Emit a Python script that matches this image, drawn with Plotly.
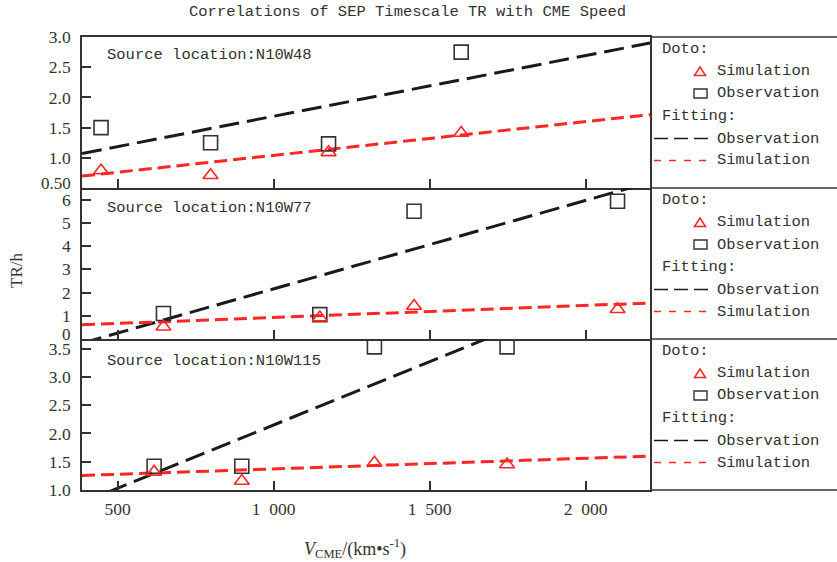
import plotly.graph_objects as go
from plotly.subplots import make_subplots

# ---- text ----
title_text = "Correlations of SEP Timescale TR with CME Speed"
source_labels = ["Source location:N10W48", "Source location:N10W77", "Source location:N10W115"]
y_title = "TR/h"
x_title = "<i>V</i><sub>CME</sub>/(km\u2022s<sup>-1</sup>)"

# ---- data: CME speed (km/s) and timescale TR (h) ----
speed_w48 = [447, 798, 1176, 1601]
obs_w48 = [1.50, 1.25, 1.23, 2.75]
sim_w48 = [0.79, 0.71, 1.09, 1.41]
fit_obs_w48 = [0.682, 1.0055e-3]   # intercept, slope
fit_sim_w48 = [0.481, 5.593e-4]

speed_w77 = [647, 1148, 1450, 2102]
obs_w77 = [1.10, 1.05, 5.50, 5.93]
sim_w77 = [0.53, 0.92, 1.42, 1.28]
fit_obs_w77 = [-1.649, 3.808e-3]
fit_sim_w77 = [0.411, 5.165e-4]

speed_w115 = [617, 898, 1323, 1748]
obs_w115 = [1.42, 1.42, 3.53, 3.53]
sim_w115 = [1.32, 1.16, 1.48, 1.45]
fit_obs_w115 = [-0.088, 2.238e-3]
fit_sim_w115 = [1.184, 1.885e-4]

# ---- axes ----
speed_range = [386, 2206]
x_tickvals = [500, 1000, 1500, 2000]
x_ticktext = ["500", "1\u2002000", "1\u2002500", "2\u2002000"]

y_ranges = [[0.5, 3.0], [0, 6.5], [1.0, 3.67]]
y_tickvals = [
    [0.5, 1.0, 1.5, 2.0, 2.5, 3.0],
    [0, 1, 2, 3, 4, 5, 6],
    [1.0, 1.5, 2.0, 2.5, 3.0, 3.5],
]
y_ticktext = [
    ["0.50", "1.0", "1.5", "2.0", "2.5", "3.0"],
    ["0", "1", "2", "3", "4", "5", "6"],
    ["1.0", "1.5", "2.0", "2.5", "3.0", "3.5"],
]

panels = [
    (speed_w48, obs_w48, sim_w48, fit_obs_w48, fit_sim_w48),
    (speed_w77, obs_w77, sim_w77, fit_obs_w77, fit_sim_w77),
    (speed_w115, obs_w115, sim_w115, fit_obs_w115, fit_sim_w115),
]

# ---- style ----
W, H = 837, 562
ML, MR, MT, MB = 82, 187, 37, 72
PW, PH = W - ML - MR, H - MT - MB
INK = "#333333"
RED = "#ff2626"
DARK = "#1a1a1a"
MONO = "Liberation Mono"
SERIF = "Liberation Serif"
TXT = 15.5
TICK = 17.5

fig = make_subplots(rows=3, cols=1, shared_xaxes=True, vertical_spacing=0)

annotations = []
shapes = []


def px(x):
    return (x - ML) / PW


def py(y):
    return (H - MB - y) / PH


def text(x, y, s, anchor="left", size=TXT, family=MONO, angle=0):
    annotations.append(dict(x=px(x), y=py(y), xref="paper", yref="paper", text=s,
                            showarrow=False, xanchor=anchor, yanchor="middle",
                            textangle=angle,
                            font=dict(family=family, size=size, color=INK)))


for i, (spd, obs, sim, f_obs, f_sim) in enumerate(panels):
    row = i + 1
    fit_y_obs = [f_obs[0] + f_obs[1] * v for v in speed_range]
    fit_y_sim = [f_sim[0] + f_sim[1] * v for v in speed_range]
    fig.add_trace(go.Scatter(x=speed_range, y=fit_y_obs, mode="lines",
                             line=dict(color=DARK, width=3, dash="20px,8px")),
                  row=row, col=1)
    fig.add_trace(go.Scatter(x=speed_range, y=fit_y_sim, mode="lines",
                             line=dict(color=RED, width=3, dash="13px,6px")),
                  row=row, col=1)
    fig.add_trace(go.Scatter(x=spd, y=obs, mode="markers",
                             marker=dict(symbol="square-open", size=14,
                                         color=INK, line=dict(width=1.6, color=INK))),
                  row=row, col=1)
    fig.add_trace(go.Scatter(x=spd, y=sim, mode="markers",
                             marker=dict(symbol="triangle-up-open", size=13,
                                         color=RED, line=dict(width=1.6, color=RED))),
                  row=row, col=1)

    # the lowest label sits on the seam between panels; it is placed by hand a
    # little higher so it clears the label of the panel below
    vals = list(y_tickvals[i])
    labels = list(y_ticktext[i])
    if i < 2:
        vals.pop(0)
        seam_label = labels.pop(0)
        text(73, MT + (i + 1) * PH / 3 - 4.5, seam_label, anchor="right",
             size=17, family=SERIF)

    fig.update_yaxes(range=y_ranges[i], tickvals=vals, ticktext=labels,
                     ticks="inside", ticklen=9, tickwidth=1.5, tickcolor=INK,
                     showline=True, mirror=True, linecolor=INK, linewidth=1.6,
                     showgrid=False, zeroline=False, automargin=False,
                     ticklabelstandoff=6,
                     tickfont=dict(family=SERIF, size=TICK, color=INK),
                     row=row, col=1)
    # only the top panel needs its own upper edge; lower panels share the seam
    fig.update_xaxes(range=speed_range, tickvals=x_tickvals, ticktext=x_ticktext,
                     ticks="inside", ticklen=9, tickwidth=1.5, tickcolor=INK,
                     showline=True, mirror=(row == 1), linecolor=INK, linewidth=1.6,
                     showgrid=False, zeroline=False, automargin=False,
                     showticklabels=(row == 3), ticklabelstandoff=2,
                     tickfont=dict(family=SERIF, size=TICK, color=INK),
                     row=row, col=1)

label_offsets = [18, 20, 21.5]
for i in range(3):
    top = MT + i * PH / 3
    text(105, top + label_offsets[i], source_labels[i])
    # per-panel key
    text(660, top + 12, "Doto:")
    text(715, top + 34, "Simulation")
    text(715, top + 56.5, "Observation")
    text(660, top + 79, "Fitting:")
    text(715, top + 101.5, "Observation")
    text(715, top + 123.5, "Simulation")
    cy = top + 34.5
    shapes.append(dict(type="path", xref="paper", yref="paper",
                       path=f"M {px(694.5)} {py(cy + 4)} L {px(705.5)} {py(cy + 4)} "
                            f"L {px(700)} {py(cy - 4.5)} Z",
                       line=dict(color=RED, width=1.5)))
    cy = top + 56.5
    shapes.append(dict(type="rect", xref="paper", yref="paper",
                       x0=px(694), x1=px(707), y0=py(cy + 4.5), y1=py(cy - 4.5),
                       line=dict(color=INK, width=1.4)))
    shapes.append(dict(type="line", xref="paper", yref="paper",
                       x0=px(654), x1=px(708), y0=py(top + 101.5), y1=py(top + 101.5),
                       line=dict(color=DARK, width=1.6, dash="14px,6px")))
    shapes.append(dict(type="line", xref="paper", yref="paper",
                       x0=px(654), x1=px(708), y0=py(top + 123.5), y1=py(top + 123.5),
                       line=dict(color=RED, width=1.4, dash="7px,8px")))

# horizontal frame lines continuing under the key column
for k in range(4):
    yy = MT + k * PH / 3
    shapes.append(dict(type="line", xref="paper", yref="paper",
                       x0=px(ML + PW), x1=px(W), y0=py(yy), y1=py(yy),
                       line=dict(color=INK, width=1.6)))

text(407, 12, title_text, anchor="center")
text(16, 271, y_title, anchor="center", size=17, family=SERIF, angle=-90)
text(355, 548, x_title, anchor="center", size=18, family=SERIF)

fig.update_layout(width=W, height=H,
                  margin=dict(l=ML, r=MR, t=MT, b=MB),
                  paper_bgcolor="white", plot_bgcolor="white",
                  showlegend=False, annotations=annotations, shapes=shapes)

fig.write_html("out.html")
